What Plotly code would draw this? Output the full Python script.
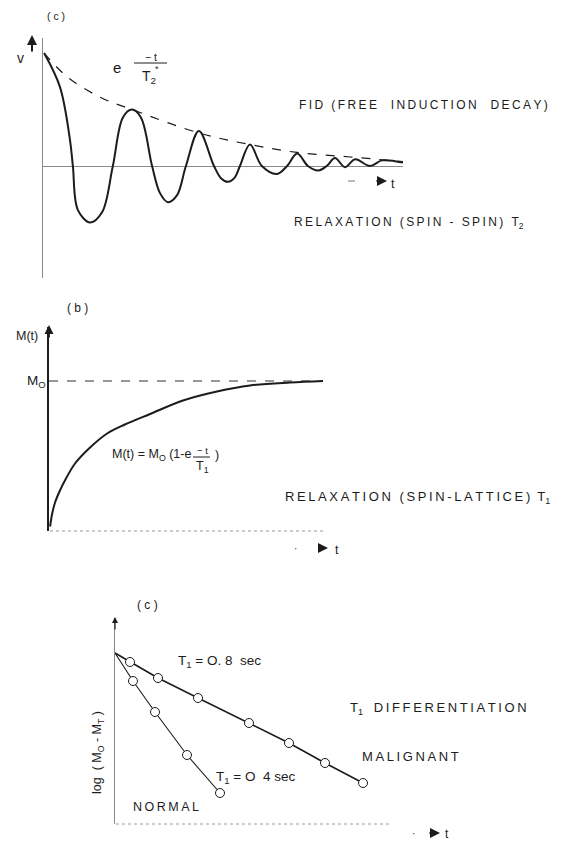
import plotly.graph_objects as go

W, H = 561, 842

# ---------------- data ----------------
# (a) FID signal v(t)
fid_t = [0.03, 0.47, 0.75, 0.83, 0.97, 1.31, 1.64, 1.94, 2.22, 2.47, 2.72, 3.03,
         3.25, 3.47, 3.72, 3.97, 4.33, 4.75, 4.95, 5.14, 5.33, 5.47, 5.75, 6.08,
         6.50, 6.78, 7.06, 7.36, 7.64, 7.88, 8.11, 8.39, 8.67, 9.08, 9.42, 10.0]
fid_v = [1.00, 0.70, 0.23, 0.00, -0.39, -0.50, -0.41, 0.00, 0.43, 0.50, 0.43, 0.00,
         -0.24, -0.32, -0.26, 0.00, 0.31, 0.00, -0.11, -0.14, -0.10, 0.00, 0.19, 0.00,
         -0.07, 0.00, 0.11, 0.00, -0.04, 0.00, 0.07, -0.01, 0.06, 0.00, 0.05, 0.03]
# envelope e^(-t/T2*)
env_t = [0.03, 0.67, 1.58, 2.47, 4.36, 5.75, 7.06, 8.53, 10.0]
env_v = [1.00, 0.79, 0.61, 0.50, 0.29, 0.19, 0.12, 0.08, 0.04]

# (b) M(t) recovery
m_t = [0.04, 0.11, 0.22, 0.40, 0.62, 0.95, 1.46, 2.12, 2.77, 3.69, 4.89, 6.13, 7.34, 8.80, 10.0]
m_val = [0.03, 0.11, 0.19, 0.27, 0.35, 0.45, 0.55, 0.65, 0.71, 0.78, 0.87, 0.93, 0.97, 0.99, 1.00]
m0_level = 1.0

# (c) log(M0 - Mt) vs t
origin_t = 0.0
origin_log = 1.71
mal_t = [0.15, 0.43, 0.83, 1.34, 1.74, 2.10, 2.48]
mal_log = [1.62, 1.46, 1.26, 1.01, 0.81, 0.61, 0.41]
nor_t = [0.18, 0.40, 0.72, 1.05]
nor_log = [1.43, 1.12, 0.69, 0.31]

# ---------------- helpers ----------------
def px(x):
    return x / W

def py(y):
    return 1 - y / H

def sp(s):
    return "\u2009".join(s)

INK = "#1c1c1c"
FONT = "Liberation Sans"

fig = go.Figure()

# (a)
fig.add_trace(go.Scatter(x=env_t, y=env_v, mode="lines", line=dict(color=INK, width=1.2, dash="dash", shape="spline"),
                         xaxis="x", yaxis="y", hoverinfo="skip"))
fig.add_trace(go.Scatter(x=fid_t, y=fid_v, mode="lines", line=dict(color=INK, width=2, shape="spline", smoothing=1.0),
                         xaxis="x", yaxis="y", hoverinfo="skip"))
# (b)
fig.add_trace(go.Scatter(x=[0, m_t[-1]], y=[m0_level, m0_level], mode="lines",
                         line=dict(color="#333", width=1.1, dash="dash"), xaxis="x2", yaxis="y2", hoverinfo="skip"))
fig.add_trace(go.Scatter(x=m_t, y=m_val, mode="lines", line=dict(color=INK, width=2, shape="spline"),
                         xaxis="x2", yaxis="y2", hoverinfo="skip"))
# (c)
fig.add_trace(go.Scatter(x=[origin_t] + mal_t, y=[origin_log] + mal_log, mode="lines",
                         line=dict(color=INK, width=1.6), xaxis="x3", yaxis="y3", hoverinfo="skip"))
fig.add_trace(go.Scatter(x=[origin_t] + nor_t, y=[origin_log] + nor_log, mode="lines",
                         line=dict(color=INK, width=1.1), xaxis="x3", yaxis="y3", hoverinfo="skip"))
for tt, ll in ((mal_t, mal_log), (nor_t, nor_log)):
    fig.add_trace(go.Scatter(x=tt, y=ll, mode="markers",
                             marker=dict(symbol="circle", size=9, color="white", line=dict(color=INK, width=1)),
                             xaxis="x3", yaxis="y3", hoverinfo="skip"))

hidden = dict(showgrid=False, showticklabels=False, ticks="", zeroline=False, showline=False, fixedrange=True)

layout = dict(
    width=W, height=H, autosize=False, showlegend=False,
    margin=dict(l=0, r=0, t=0, b=0),
    paper_bgcolor="white", plot_bgcolor="rgba(0,0,0,0)",
    font=dict(family=FONT, color=INK, size=12),
    xaxis=dict(domain=[px(43), px(403)], range=[0, 10], anchor="y", **hidden),
    yaxis=dict(domain=[py(278), py(38)], range=[-0.991, 1.133], anchor="x",
               showgrid=False, showticklabels=False, ticks="", fixedrange=True,
               zeroline=True, zerolinecolor="#8a8a8a", zerolinewidth=1,
               showline=True, linecolor="#8a8a8a", linewidth=1),
    xaxis2=dict(domain=[px(49), px(323)], range=[0, 10], anchor="y2", **hidden),
    yaxis2=dict(domain=[py(531), py(327)], range=[0, 1.36], anchor="x2",
                showgrid=False, showticklabels=False, ticks="", zeroline=False, fixedrange=True,
                showline=True, linecolor=INK, linewidth=1.6),
    xaxis3=dict(domain=[px(115), px(390)], range=[0, 2.75], anchor="y3", **hidden),
    yaxis3=dict(domain=[py(824), py(618)], range=[0, 2.06], anchor="x3",
                showgrid=False, showticklabels=False, ticks="", zeroline=False, fixedrange=True,
                showline=True, linecolor="#8a8a8a", linewidth=1),
)

shapes = [
    # faint dotted time axes (b) and (c)
    dict(type="line", xref="paper", yref="paper", x0=px(50), x1=px(326), y0=py(531), y1=py(531),
         line=dict(color="#9a9a9a", width=1, dash="dot")),
    dict(type="line", xref="paper", yref="paper", x0=px(116), x1=px(390), y0=py(824), y1=py(824),
         line=dict(color="#9a9a9a", width=1, dash="dot")),
    # fraction bars
    dict(type="line", xref="paper", yref="paper", x0=px(134), x1=px(167), y0=py(63), y1=py(63),
         line=dict(color=INK, width=1)),
    dict(type="line", xref="paper", yref="paper", x0=px(193), x1=px(210), y0=py(457), y1=py(457),
         line=dict(color=INK, width=1)),
    # small dash before the t arrow in (a)
    dict(type="line", xref="paper", yref="paper", x0=px(348), x1=px(355), y0=py(181), y1=py(181),
         line=dict(color="#777", width=1)),
]

def txt(x, y, s, size=12, xanchor="center", angle=0):
    return dict(x=px(x), y=py(y), xref="paper", yref="paper", text=s, showarrow=False,
                xanchor=xanchor, yanchor="middle", textangle=angle,
                font=dict(family=FONT, size=size, color=INK))

def arrow(x, y, ax, ay, width=1.6):
    return dict(x=px(x), y=py(y), xref="paper", yref="paper", text="", showarrow=True,
                ax=ax, ay=ay, axref="pixel", ayref="pixel", arrowhead=2, arrowsize=1,
                arrowwidth=width, arrowcolor=INK)

ann = [
    # (a)
    txt(56, 16, "( c )", 10.5),
    txt(20, 58, "v", 14),
    arrow(32, 35, 0, 18, 2),
    txt(117, 67, "e", 15),
    txt(151, 57, "− t", 10.5),
    txt(149, 77, "T<sub>2</sub>", 14),
    txt(157, 69, "*", 9),
    txt(297, 105, sp("FID (FREE  INDUCTION  DECAY)"), 12, "left"),
    txt(292, 223, sp("RELAXATION (SPIN - SPIN) T") + "<sub>2</sub>", 12, "left"),
    arrow(387, 181, -12, 0, 2),
    txt(393, 184, "t", 12.5),
    # (b)
    txt(77, 308, "( b )", 12),
    txt(27, 336, "M(t)", 12.5),
    arrow(49, 325, 0, 14, 1.8),
    txt(36, 382, "M<sub>O</sub>", 13.5),
    txt(110, 455, "M(t) = M<sub>O</sub> (1-e", 12.5, "left"),
    txt(202, 450, "− t", 9.5),
    txt(202, 467, "T<sub>1</sub>", 12.5),
    txt(217, 455, ")", 12.5),
    txt(283, 497, sp("RELAXATION (SPIN-LATTICE)") + "  T<sub>1</sub>", 13, "left"),
    arrow(328, 548, -11, 0, 2),
    txt(337, 550, "t", 12.5),
    txt(295, 548, "·", 10),
    # (c)
    txt(147, 605, "( c )", 12),
    arrow(115, 617, 0, 14, 1.2),
    txt(98, 753, "log  ( M<sub>O</sub> - M<sub>T</sub> )", 12.5, angle=-90),
    txt(176, 661, "T<sub>1</sub> = O. 8  sec", 13.5, "left"),
    txt(214, 777, "T<sub>1</sub> = O  4 sec", 13.5, "left"),
    txt(131, 807, sp("NORMAL"), 12.5, "left"),
    txt(348, 708, "T<sub>1</sub>   " + sp("DIFFERENTIATION"), 13, "left"),
    txt(360, 756, sp("MALIGNANT"), 13, "left"),
    arrow(440, 833, -12, 0, 2),
    txt(447, 834, "t", 12),
    txt(413, 833, "·", 10),
]

layout["shapes"] = shapes
layout["annotations"] = ann
fig.update_layout(**layout)

fig.write_html("out.html", config={"displayModeBar": False},
               post_script="document.body.style.margin='0px';document.body.style.overflow='hidden';")
